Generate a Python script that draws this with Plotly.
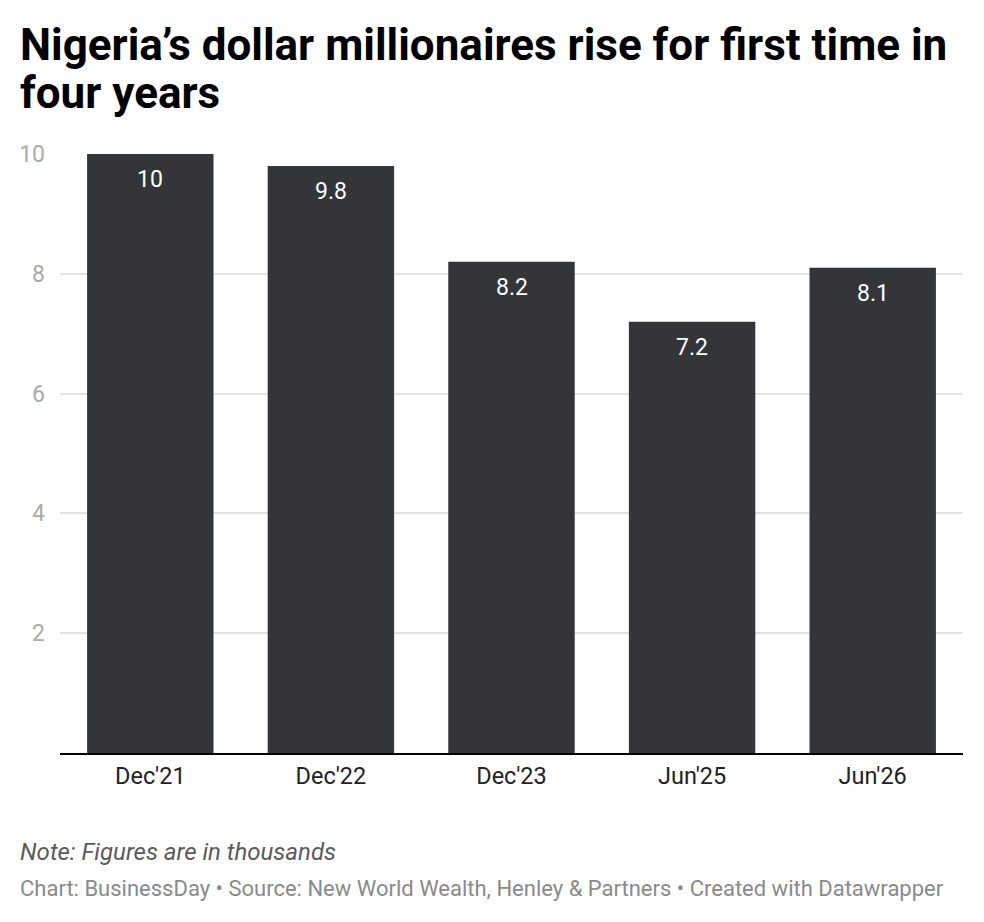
import plotly.graph_objects as go

# Nigeria dollar millionaires (thousands)
periods = ["Dec'21", "Dec'22", "Dec'23", "Jun'25", "Jun'26"]
millionaires = [10, 9.8, 8.2, 7.2, 8.1]
value_labels = ["10", "9.8", "8.2", "7.2", "8.1"]
y_ticks = [2, 4, 6, 8, 10]

title_lines = ["Nigeria’s dollar millionaires rise for first time in", "four years"]
note_text = "Note: Figures are in thousands"
footer_text = ("Chart: BusinessDay • Source: New World Wealth, Henley &amp; Partners"
               " • Created with Datawrapper")

W, H = 984, 922
L, R, T, B = 60, 21, 154, 169
PW, PH = W - L - R, H - T - B


def px_x(x):
    # pixel -> paper x
    return (x - L) / PW


def px_y(y):
    # pixel -> paper y
    return (H - B - y) / PH


fig = go.Figure(go.Bar(
    x=periods,
    y=millionaires,
    marker=dict(color="#333539", line=dict(width=0)),
    hoverinfo="x+y",
))

# value labels inside the bar tops
for p, v, lab in zip(periods, millionaires, value_labels):
    fig.add_annotation(
        x=p, y=v, text=lab, showarrow=False,
        yanchor="top", yshift=-10,
        font=dict(family="Roboto", size=23, color="#ffffff"),
    )

# title, one annotation per line
for text, yc in zip(title_lines, [45, 93]):
    fig.add_annotation(
        xref="paper", yref="paper", x=px_x(18), y=px_y(yc),
        text="<b>" + text + "</b>", showarrow=False,
        xanchor="left", yanchor="middle",
        font=dict(family="Roboto", size=44, color="#000000"),
    )

fig.add_annotation(
    xref="paper", yref="paper", x=px_x(18), y=px_y(852),
    text="<i>" + note_text + "</i>", showarrow=False,
    xanchor="left", yanchor="middle",
    font=dict(family="Roboto", size=24, color="#5a5a5a"),
)
fig.add_annotation(
    xref="paper", yref="paper", x=px_x(18), y=px_y(888),
    text=footer_text, showarrow=False, xanchor="left", yanchor="middle",
    font=dict(family="Roboto", size=22, color="#8a8a8a"),
)

fig.update_layout(
    width=W, height=H,
    margin=dict(l=L, r=R, t=T, b=B),
    paper_bgcolor="#ffffff",
    plot_bgcolor="#ffffff",
    bargap=0.30,
    showlegend=False,
    font=dict(family="Roboto", color="#333333"),
    xaxis=dict(
        showgrid=False,
        showline=True, linecolor="#000000", linewidth=2,
        ticks="", tickfont=dict(family="Roboto", size=23.5, color="#222222"),
        ticklabelstandoff=1,
    ),
    yaxis=dict(
        range=[0, 10],
        tickvals=y_ticks,
        showgrid=True, gridcolor="#e3e3e3", gridwidth=1.5,
        zeroline=False, showline=False,
        ticks="", tickfont=dict(family="Roboto", size=23, color="#aaaaaa"),
        ticklabelstandoff=14,
    ),
)

fig.write_html("out.html", config={"displayModeBar": False},
               post_script="document.body.style.margin='0';")
